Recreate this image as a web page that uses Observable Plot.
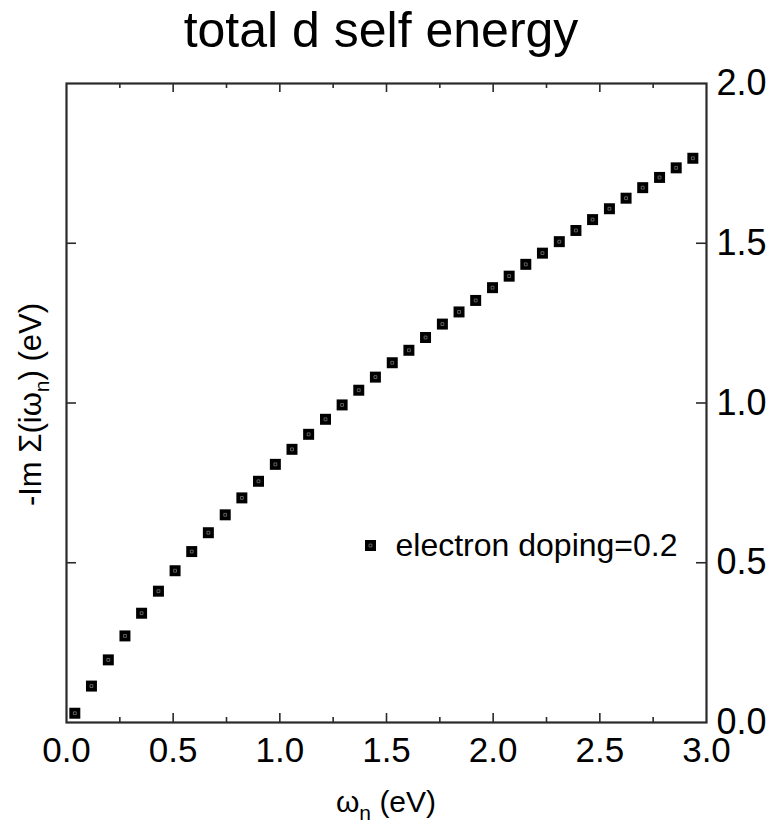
<!DOCTYPE html>
<html><head><meta charset="utf-8">
<script src="https://cdn.jsdelivr.net/npm/d3@7"></script>
<script src="https://cdn.jsdelivr.net/npm/@observablehq/plot@0.6"></script>
<style>
body{margin:0;background:#fff;font-family:"Liberation Sans",Arial,sans-serif;}
#title{width:762px;height:60px;line-height:60px;text-align:center;font-size:50px;color:#000;white-space:nowrap;}
</style></head><body>
<div id="title">total d self energy</div>
<div id="chart"></div>
<script>
const omega = [0.039, 0.117, 0.196, 0.274, 0.352, 0.431, 0.509, 0.587, 0.665, 0.744,
  0.822, 0.900, 0.979, 1.057, 1.135, 1.214, 1.292, 1.370, 1.448, 1.527,
  1.605, 1.683, 1.762, 1.840, 1.918, 1.997, 2.075, 2.153, 2.231, 2.310,
  2.388, 2.466, 2.545, 2.623, 2.701, 2.780, 2.858, 2.936];
const imSigma = [0.029, 0.114, 0.196, 0.271, 0.342, 0.411, 0.475, 0.535, 0.594, 0.650,
  0.703, 0.755, 0.808, 0.855, 0.902, 0.949, 0.994, 1.040, 1.081, 1.126,
  1.165, 1.205, 1.247, 1.285, 1.321, 1.361, 1.397, 1.434, 1.469, 1.505,
  1.540, 1.574, 1.608, 1.641, 1.674, 1.706, 1.736, 1.766];
const xLabelTicks = [0, 0.5, 1.0, 1.5, 2.0, 2.5, 3.0];
const xMajorInner = [0.5, 1.0, 1.5, 2.0, 2.5];
const xMinorInner = [0.25, 0.75, 1.25, 1.75, 2.25, 2.75];
const yLabelTicks = [0, 0.5, 1.0, 1.5, 2.0];
const yInner = [0.5, 1.0, 1.5];
const seriesLabel = "electron doping=0.2";

const data = omega.map((x, i) => ({x, y: imSigma[i]}));
const fmt = d3.format(".1f");
const ink = "#2a2a2a";
const mL = 66, mR = 70, mT = 23, mB = 102, W = 776, H = 764;
const pw = W - mL - mR, ph = H - mT - mB;
const tk = {stroke: ink, strokeWidth: 1.6};

const plot = Plot.plot({
  width: W, height: H,
  marginTop: mT, marginBottom: mB, marginLeft: mL, marginRight: mR,
  style: {fontFamily: "Liberation Sans, Arial, sans-serif", background: "#fff", color: "#000", overflow: "visible"},
  x: {domain: [0, 3], axis: null},
  y: {domain: [0, 2], axis: null},
  marks: [
    Plot.tickX(xMinorInner, {x: d => d, insetTop: ph - 5, ...tk}),
    Plot.tickX(xMajorInner, {x: d => d, insetTop: ph - 9, ...tk}),
    Plot.tickX(xMinorInner, {x: d => d, insetBottom: ph - 5, ...tk}),
    Plot.tickX(xMajorInner, {x: d => d, insetBottom: ph - 9, ...tk}),
    Plot.tickY(yInner, {y: d => d, insetRight: pw - 10, ...tk}),
    Plot.tickY(yInner, {y: d => d, insetLeft: pw - 10, ...tk}),
    Plot.text(xLabelTicks, {x: d => d, frameAnchor: "bottom", dy: 15, lineAnchor: "top", text: d => fmt(d), fontSize: 35, fill: "#000"}),
    Plot.text(yLabelTicks, {y: d => d, frameAnchor: "right", dx: 10, textAnchor: "start", lineAnchor: "middle", text: d => fmt(d), fontSize: 36, fill: "#000"}),
    Plot.frame({stroke: ink, strokeWidth: 2.2}),
    Plot.dot(data, {x: "x", y: "y", symbol: "square", r: 6.2, fill: "#000"}),
    Plot.dot(data, {x: "x", y: "y", symbol: "square", r: 1.6, fill: "none", stroke: "#777", strokeWidth: 0.8}),
    Plot.dot([seriesLabel], {frameAnchor: "top-left", dx: 304, dy: 462, symbol: "square", r: 6.2, fill: "#000"}),
    Plot.dot([seriesLabel], {frameAnchor: "top-left", dx: 304, dy: 462, symbol: "square", r: 1.6, fill: "none", stroke: "#777", strokeWidth: 0.8}),
    Plot.text([seriesLabel], {frameAnchor: "top-left", dx: 329, dy: 462, text: d => d, textAnchor: "start", lineAnchor: "middle", fontSize: 32, fill: "#000"})
  ]
});

const svg = d3.select(plot);
const cx = mL + pw / 2;
const cy = mT + ph / 2;
const xl = svg.append("text")
  .attr("x", cx).attr("y", 752)
  .attr("text-anchor", "middle").attr("font-size", 30).attr("fill", "#000")
  .attr("font-family", "Liberation Sans, Arial, sans-serif");
xl.append("tspan").text("ω");
xl.append("tspan").attr("font-size", 21).attr("dy", 8).text("n");
xl.append("tspan").attr("dy", -8).text(" (eV)");

const yl = svg.append("text")
  .attr("transform", `translate(41,${cy + 2}) rotate(-90)`)
  .attr("text-anchor", "middle").attr("font-size", 31).attr("fill", "#000")
  .attr("font-family", "Liberation Sans, Arial, sans-serif");
yl.append("tspan").text("-Im Σ(iω");
yl.append("tspan").attr("font-size", 21).attr("dy", 8).text("n");
yl.append("tspan").attr("dy", -8).text(") (eV)");

document.getElementById("chart").appendChild(plot);
</script>
</body></html>
